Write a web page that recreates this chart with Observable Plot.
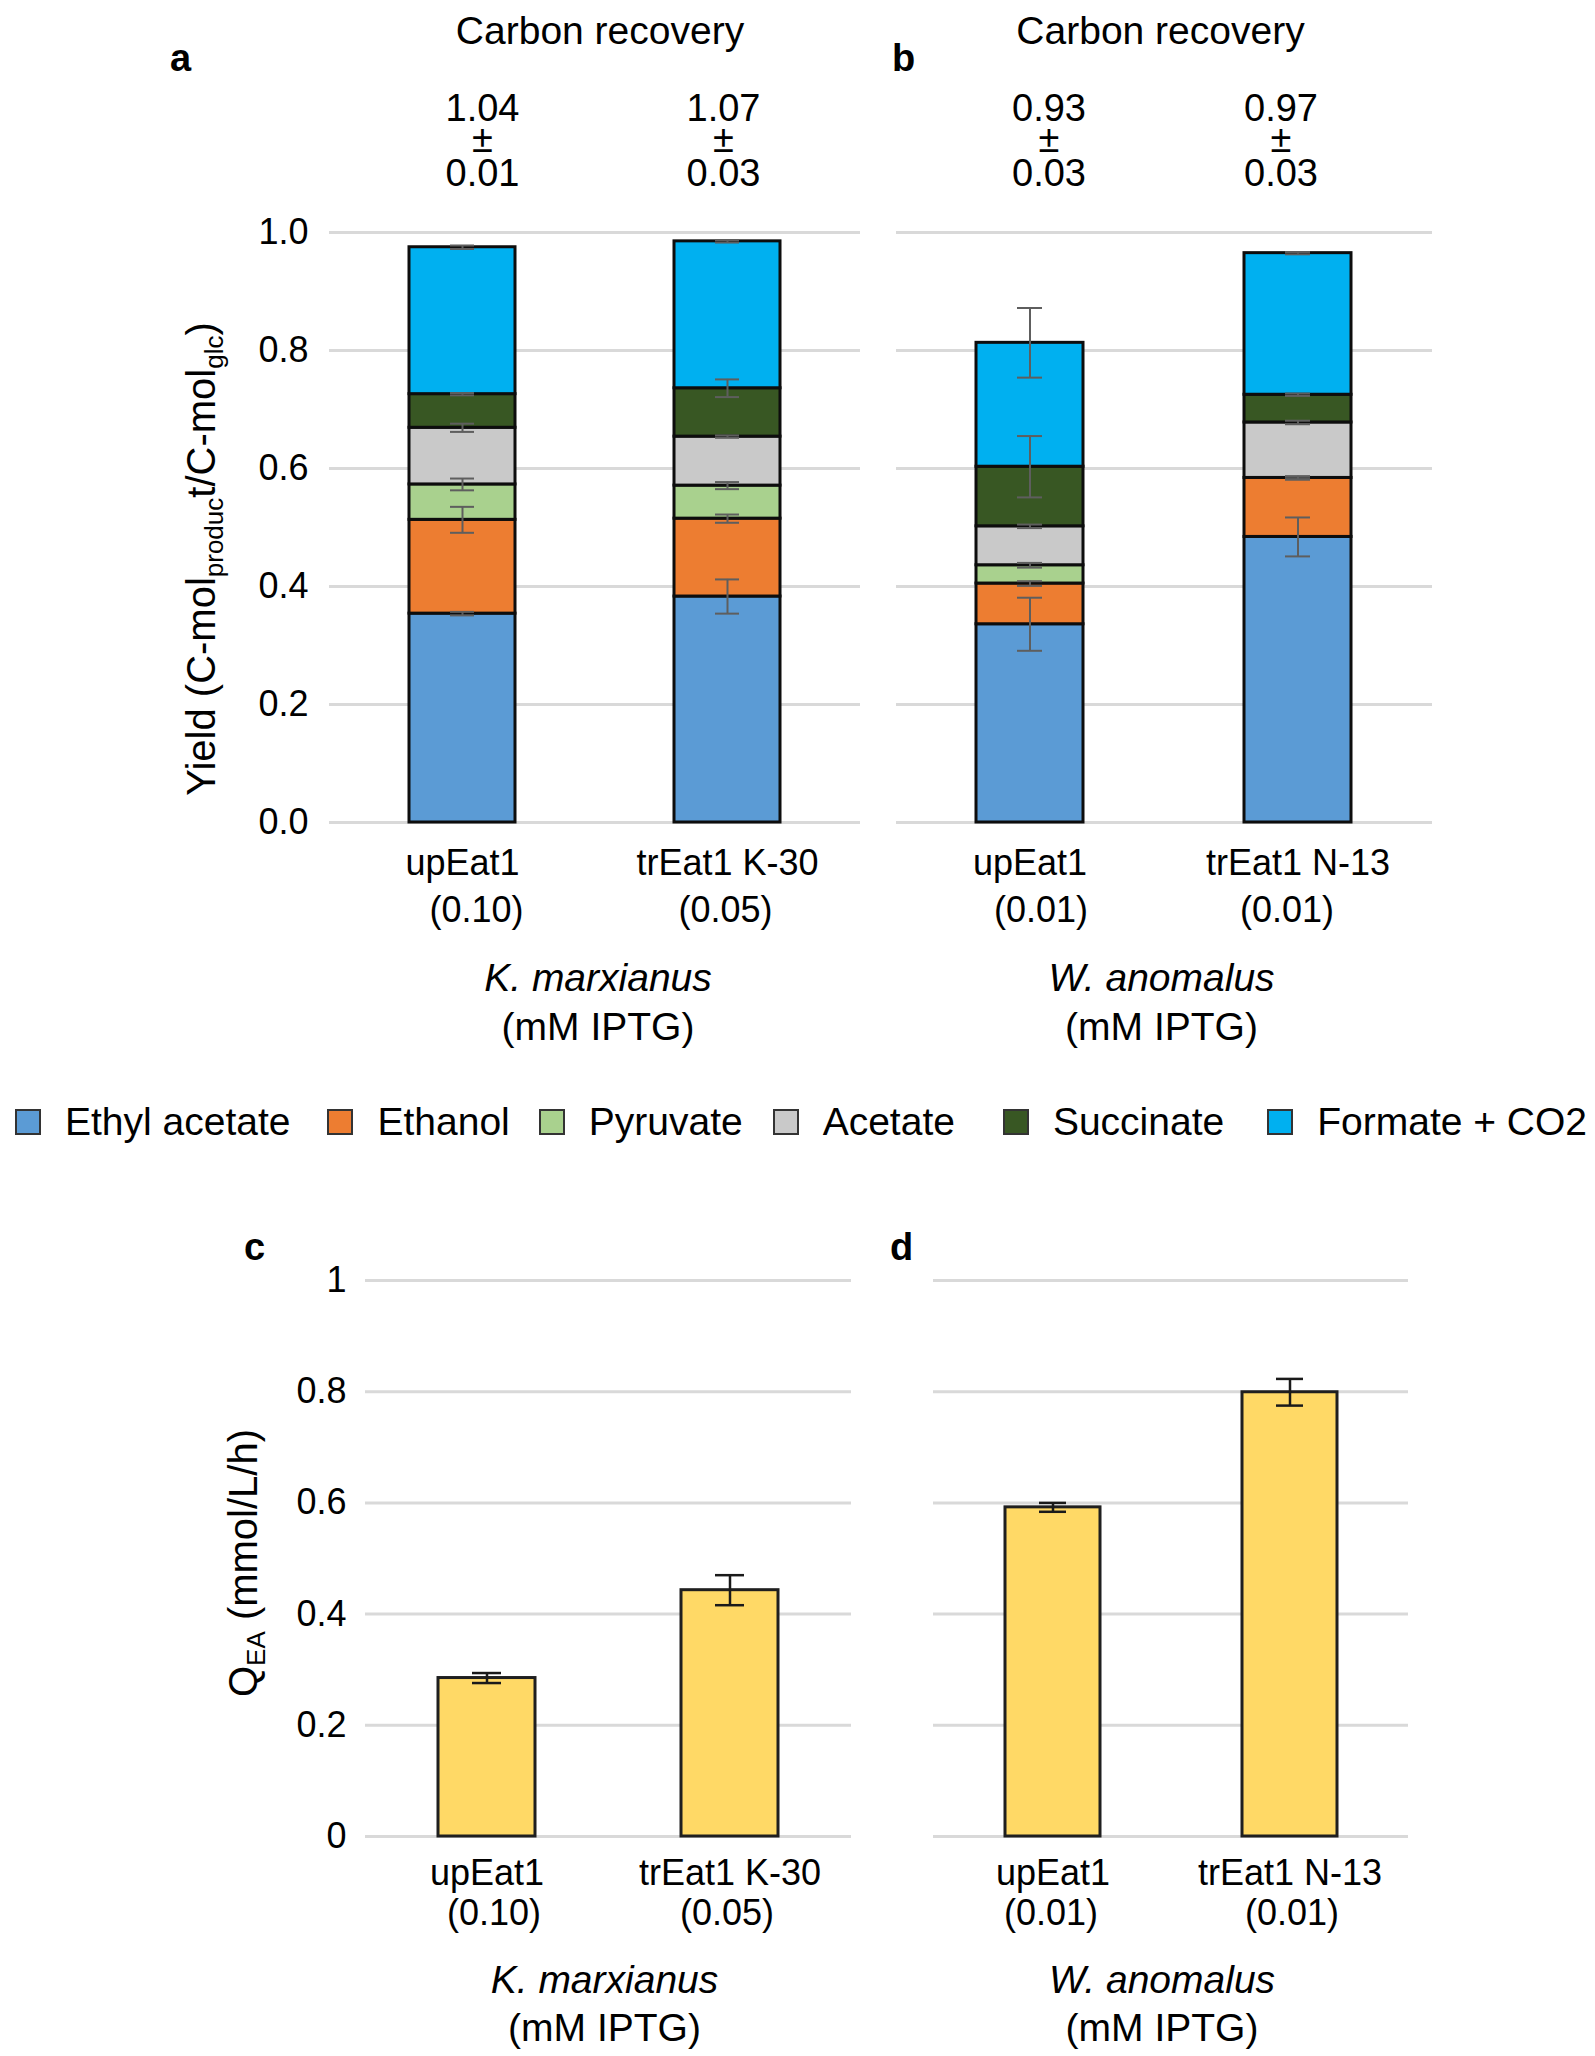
<!DOCTYPE html>
<html>
<head>
<meta charset="utf-8">
<script src="https://cdn.jsdelivr.net/npm/d3@7"></script>
<script src="https://cdn.jsdelivr.net/npm/@observablehq/plot@0.6"></script>
<style>
html, body { margin: 0; padding: 0; background: #fff; }
#fig { position: relative; width: 1595px; height: 2056px; font-family: "Liberation Sans", Arial, Helvetica, sans-serif; color: #000; overflow: hidden; }
.panel { position: absolute; }
#legend { position: absolute; left: 15px; top: 1099px; height: 46px; display: flex; align-items: center; font-size: 39px; line-height: 46px; white-space: nowrap; }
#legend .item { display: flex; align-items: center; }
#legend .sw { display: inline-block; width: 22px; height: 22px; border: 2px solid #333; margin-right: 24px; }
</style>
</head>
<body>
<div id="fig"></div>
<script>
// ---------- data ----------
const components = ["Ethyl acetate", "Ethanol", "Pyruvate", "Acetate", "Succinate", "Formate + CO2"];
const componentColors = ["#5b9bd5", "#ed7d31", "#a9d18e", "#c9c9c9", "#385723", "#00b0f0"];

const kmStrains = ["upEat1", "trEat1 K-30"];
const kmIPTG = ["(0.10)", "(0.05)"];
const waStrains = ["upEat1", "trEat1 N-13"];
const waIPTG = ["(0.01)", "(0.01)"];

// yields (C-mol product / C-mol glc), per component, bottom to top
const kmUpEat1Yield = [0.354, 0.159, 0.060, 0.096, 0.057, 0.249];
const kmUpEat1Err   = [0.003, 0.022, 0.010, 0.007, 0.002, 0.003];
const kmTrEat1Yield = [0.383, 0.132, 0.056, 0.083, 0.082, 0.249];
const kmTrEat1Err   = [0.029, 0.007, 0.006, 0.002, 0.015, 0.002];
const waUpEat1Yield = [0.336, 0.069, 0.031, 0.066, 0.101, 0.210];
const waUpEat1Err   = [0.045, 0.004, 0.004, 0.003, 0.052, 0.059];
const waTrEat1Yield = [0.484, 0.100, 0.000, 0.094, 0.047, 0.240];
const waTrEat1Err   = [0.033, 0.003, 0.002, 0.003, 0.002, 0.002];

const kmRecovery = ["1.04", "1.07"];
const kmRecoverySd = ["0.01", "0.03"];
const waRecovery = ["0.93", "0.97"];
const waRecoverySd = ["0.03", "0.03"];

// ethyl acetate productivity Q_EA (mmol/L/h)
const kmQ = [0.285, 0.443];
const kmQErr = [0.009, 0.027];
const waQ = [0.592, 0.799];
const waQErr = [0.008, 0.024];

const yieldTicks = [0, 0.2, 0.4, 0.6, 0.8, 1.0];
const yieldTickLabels = ["0.0", "0.2", "0.4", "0.6", "0.8", "1.0"];
const qTicks = [0, 0.2, 0.4, 0.6, 0.8, 1];
const qTickLabels = ["0", "0.2", "0.4", "0.6", "0.8", "1"];

// ---------- drawing ----------
const FONT = "Liberation Sans, Arial, Helvetica, sans-serif";
const fig = d3.select("#fig");
const baseStyle = {fontFamily: FONT, fontSize: "36px", color: "#000", background: "transparent", overflow: "visible"};

function place(svg, left, top, width) {
  fig.append("div").attr("class", "panel")
    .style("left", left + "px").style("top", top + "px").style("width", width + "px")
    .node().appendChild(svg);
}

function yieldPanel(o) {
  const rows = [];
  o.strains.forEach((s, i) => {
    let cum = 0;
    components.forEach((c, j) => {
      cum += o.series[i][j];
      rows.push({strain: s, component: c, value: o.series[i][j], top: cum, err: o.errors[i][j]});
    });
  });
  const labels = o.strains.map((s, i) => ({strain: s, iptg: o.iptg[i], rec: o.recovery[i], sd: o.recoverySd[i]}));
  const errColor = "#5e5e5e";
  const marks = [
    Plot.ruleY(yieldTicks, {y: d => d, stroke: "#d9d9d9", strokeWidth: 3}),
    Plot.barY(rows, {x: "strain", y: "value", fill: "component", stroke: "#0d0d0d", strokeWidth: 3}),
    Plot.ruleX(rows, {x: "strain", y1: d => d.top - d.err, y2: d => d.top + d.err, stroke: errColor, strokeWidth: 2}),
    Plot.tickY(rows, {x: "strain", y: d => d.top - d.err, stroke: errColor, strokeWidth: 2, insetLeft: 41, insetRight: 41}),
    Plot.tickY(rows, {x: "strain", y: d => d.top + d.err, stroke: errColor, strokeWidth: 2, insetLeft: 41, insetRight: 41}),
    Plot.text([o.letter], {text: d => d, frameAnchor: "top-left", dx: o.letterDx, dy: -174, fontSize: 38, fontWeight: "bold", textAnchor: "middle", lineAnchor: "middle"}),
    Plot.text(["Carbon recovery"], {text: d => d, frameAnchor: "top", dx: o.titleDx, dy: -201, fontSize: 39, lineAnchor: "middle"}),
    Plot.text(labels, {x: "strain", text: "strain", frameAnchor: "bottom", dy: 41, fontSize: 36, lineAnchor: "middle"}),
    Plot.text([o.species], {text: d => d, frameAnchor: "bottom", dx: o.speciesDx, dy: 156, fontSize: 39, fontStyle: "italic", lineAnchor: "middle"}),
    Plot.text(["(mM IPTG)"], {text: d => d, frameAnchor: "bottom", dx: o.speciesDx, dy: 205, fontSize: 39, lineAnchor: "middle"})
  ];
  labels.forEach((l, i) => {
    marks.push(
      Plot.text([l], {x: "strain", text: "rec", frameAnchor: "top", dx: o.recDx[i], dy: -124, fontSize: 38, lineAnchor: "middle"}),
      Plot.text([l], {x: "strain", text: () => "±", frameAnchor: "top", dx: o.recDx[i], dy: -93, fontSize: 38, lineAnchor: "middle"}),
      Plot.text([l], {x: "strain", text: "sd", frameAnchor: "top", dx: o.recDx[i], dy: -59, fontSize: 38, lineAnchor: "middle"}),
      Plot.text([l], {x: "strain", text: "iptg", frameAnchor: "bottom", dx: o.iptgDx[i], dy: 88, fontSize: 36, lineAnchor: "middle"})
    );
  });
  if (o.showY) marks.push(Plot.axisY({ticks: yieldTicks, label: null, tickSize: 0, tickPadding: 21, fontSize: 36, tickFormat: d => yieldTickLabels[yieldTicks.indexOf(d)]}));
  return Plot.plot({
    width: o.width, height: 1060,
    marginTop: 232, marginBottom: 238, marginLeft: o.marginLeft, marginRight: o.marginRight,
    x: {domain: o.strains, axis: null, paddingInner: 0.6, paddingOuter: 0.3},
    y: {domain: [0, 1], axis: o.showY ? undefined : null, label: null},
    color: {domain: components, range: componentColors},
    style: baseStyle,
    marks
  });
}

function qPanel(o) {
  const rows = o.strains.map((s, i) => ({strain: s, iptg: o.iptg[i], q: o.values[i], err: o.errors[i]}));
  const errColor = "#1a1a1a";
  const marks = [
    Plot.ruleY(qTicks, {y: d => d, stroke: "#d9d9d9", strokeWidth: 3}),
    Plot.barY(rows, {x: "strain", y: "q", fill: "#ffd966", stroke: "#1f1f1f", strokeWidth: 3}),
    Plot.ruleX(rows, {x: "strain", y1: d => d.q - d.err, y2: d => d.q + d.err, stroke: errColor, strokeWidth: 2.5}),
    Plot.tickY(rows, {x: "strain", y: d => d.q - d.err, stroke: errColor, strokeWidth: 2.5, insetLeft: 34, insetRight: 34}),
    Plot.tickY(rows, {x: "strain", y: d => d.q + d.err, stroke: errColor, strokeWidth: 2.5, insetLeft: 34, insetRight: 34}),
    Plot.text([o.letter], {text: d => d, frameAnchor: "top-left", dx: o.letterDx, dy: -33, fontSize: 38, fontWeight: "bold", textAnchor: "middle", lineAnchor: "middle"}),
    Plot.text(rows, {x: "strain", text: "strain", frameAnchor: "bottom", dy: 37, fontSize: 36, lineAnchor: "middle"}),
    Plot.text([o.species], {text: d => d, frameAnchor: "bottom", dx: o.speciesDx, dy: 144, fontSize: 39, fontStyle: "italic", lineAnchor: "middle"}),
    Plot.text(["(mM IPTG)"], {text: d => d, frameAnchor: "bottom", dx: o.speciesDx, dy: 192, fontSize: 39, lineAnchor: "middle"})
  ];
  rows.forEach((r, i) => {
    marks.push(Plot.text([r], {x: "strain", text: "iptg", frameAnchor: "bottom", dx: o.iptgDx[i], dy: 77, fontSize: 36, lineAnchor: "middle"}));
  });
  if (o.showY) marks.push(Plot.axisY({ticks: qTicks, label: null, tickSize: 0, tickPadding: 19, fontSize: 36, tickFormat: d => qTickLabels[qTicks.indexOf(d)]}));
  return Plot.plot({
    width: o.width, height: 876,
    marginTop: 100, marginBottom: 220, marginLeft: o.marginLeft, marginRight: o.marginRight,
    x: {domain: o.strains, axis: null, paddingInner: 0.6, paddingOuter: 0.3},
    y: {domain: [0, 1], axis: o.showY ? undefined : null, label: null},
    style: baseStyle,
    marks
  });
}

// panel a
const svgA = yieldPanel({
  strains: kmStrains, iptg: kmIPTG, series: [kmUpEat1Yield, kmTrEat1Yield], errors: [kmUpEat1Err, kmTrEat1Err],
  recovery: kmRecovery, recoverySd: kmRecoverySd, letter: "a", species: "K. marxianus", showY: true,
  width: 875, marginLeft: 329, marginRight: 15, letterDx: -149, titleDx: 5, speciesDx: 3,
  recDx: [20, -4], iptgDx: [14, -2]
});
{
  const t = d3.select(svgA).append("text")
    .attr("transform", "translate(215,559) rotate(-90)")
    .attr("text-anchor", "middle").attr("font-size", 40).attr("fill", "#000");
  t.append("tspan").text("Yield (C-mol");
  t.append("tspan").attr("font-size", 26).attr("dy", 8).text("produc");
  t.append("tspan").attr("font-size", 40).attr("dy", -8).text("t/C-mol");
  t.append("tspan").attr("font-size", 26).attr("dy", 8).text("glc");
  t.append("tspan").attr("font-size", 40).attr("dy", -8).text(")");
}
place(svgA, 0, 0, 875);

// panel b
const svgB = yieldPanel({
  strains: waStrains, iptg: waIPTG, series: [waUpEat1Yield, waTrEat1Yield], errors: [waUpEat1Err, waTrEat1Err],
  recovery: waRecovery, recoverySd: waRecoverySd, letter: "b", species: "W. anomalus", showY: false,
  width: 720, marginLeft: 21, marginRight: 163, letterDx: 7, titleDx: -4, speciesDx: -3,
  recDx: [19, -17], iptgDx: [11, -11]
});
place(svgB, 875, 0, 720);

// legend
const legendGaps = [37, 29, 30, 48, 43, 0];
const legend = fig.append("div").attr("id", "legend");
components.forEach((c, i) => {
  const it = legend.append("div").attr("class", "item").style("margin-right", legendGaps[i] + "px");
  it.append("span").attr("class", "sw").style("background", componentColors[i]);
  it.append("span").text(c);
});

// panel c
const svgC = qPanel({
  strains: kmStrains, iptg: kmIPTG, values: kmQ, errors: kmQErr, letter: "c", species: "K. marxianus", showY: true,
  width: 880, marginLeft: 365, marginRight: 29, letterDx: -111, speciesDx: -4, iptgDx: [7, -3]
});
{
  const t = d3.select(svgC).append("text")
    .attr("transform", "translate(257,383) rotate(-90)")
    .attr("text-anchor", "middle").attr("font-size", 40).attr("fill", "#000");
  t.append("tspan").text("Q");
  t.append("tspan").attr("font-size", 26).attr("dy", 8).text("EA");
  t.append("tspan").attr("font-size", 40).attr("dy", -8).text("\u00A0(mmol/L/h)");
}
place(svgC, 0, 1180, 880);

// panel d
const svgD = qPanel({
  strains: waStrains, iptg: waIPTG, values: waQ, errors: waQErr, letter: "d", species: "W. anomalus", showY: false,
  width: 715, marginLeft: 53, marginRight: 187, letterDx: -32, speciesDx: -9, iptgDx: [-2, 2]
});
place(svgD, 880, 1180, 715);
</script>
</body>
</html>
